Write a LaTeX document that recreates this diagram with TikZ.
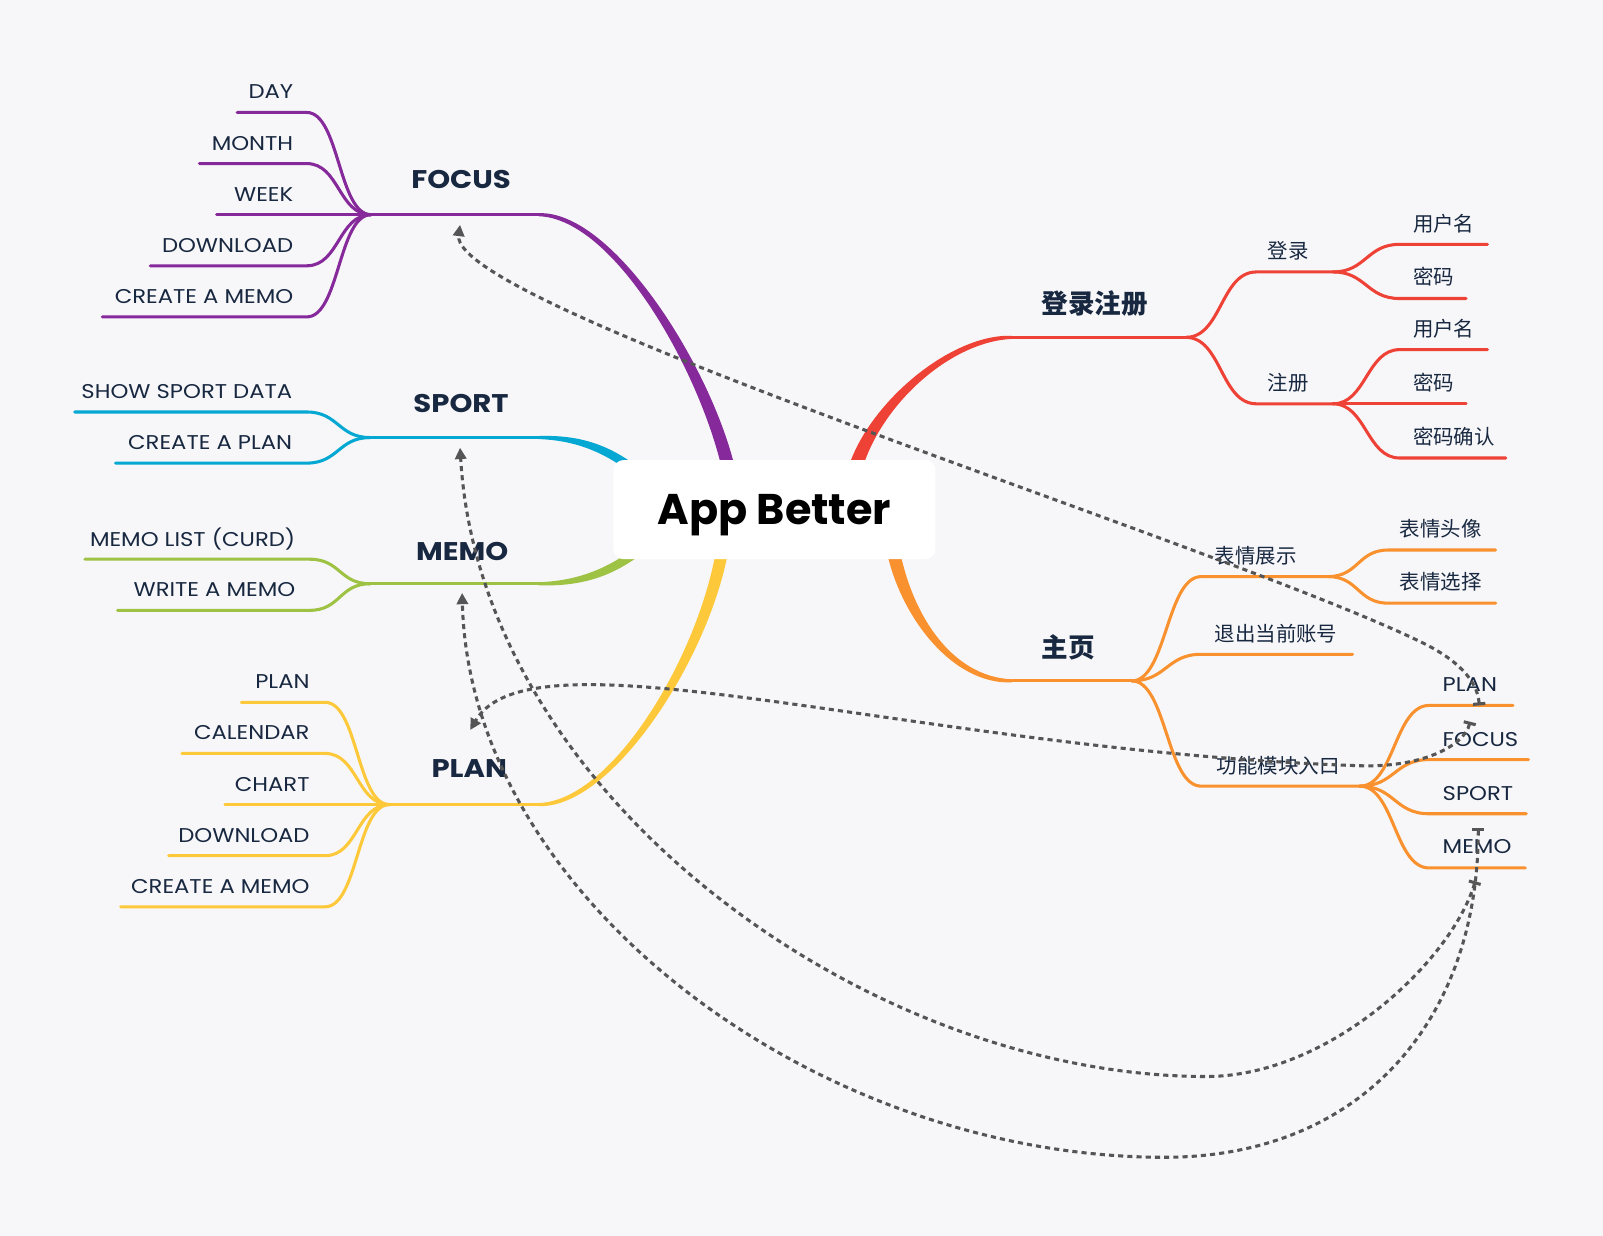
\documentclass[tikz,border=0pt]{standalone}
\usepackage{fontspec}
\setmainfont{Poppins}
\newfontfamily\mmfont{Poppins}[FakeStretch=1.14]
\newfontfamily\cjk{Noto Sans CJK SC}
\usetikzlibrary{arrows.meta}

\definecolor{mmbg}{HTML}{F7F7F9}
\definecolor{mmtext}{HTML}{182840}
\definecolor{mmrel}{HTML}{555555}
\definecolor{cfocus}{HTML}{86299A}
\definecolor{csport}{HTML}{05A8D2}
\definecolor{cmemo}{HTML}{9EC244}
\definecolor{cplan}{HTML}{FDC93A}
\definecolor{clogin}{HTML}{EF4236}
\definecolor{chome}{HTML}{F8912E}

\begin{document}
\begin{tikzpicture}[x=1pt,y=-1pt,
    leafL/.style={anchor=east,inner sep=0pt,text=mmtext,font=\mmfont\fontsize{19.5}{22}\selectfont},
    leafR/.style={anchor=west,inner sep=0pt,text=mmtext,font=\mmfont\fontsize{19.5}{22}\selectfont},
    hanzi/.style={anchor=west,inner sep=0pt,text=mmtext,font=\cjk\fontsize{20}{24}\selectfont},
    topic/.style={inner sep=0pt,text=mmtext,font=\mmfont\bfseries\fontsize{25}{30}\selectfont},
    hanzitopic/.style={inner sep=0pt,text=mmtext,font=\cjk\bfseries\fontsize{26}{30}\selectfont},
    twig/.style={line width=3pt,line cap=round},
    rel/.style={draw=mmrel,line width=3pt,dash pattern=on 5pt off 4pt,
      {Bar[width=12pt]}-{Triangle[length=11pt,width=11pt]}},
    centre/.style={fill=white,rounded corners=10pt,minimum width=315pt,
      minimum height=97pt,inner sep=0pt,text depth=0pt,text=black,
      font=\bfseries\fontsize{42}{48}\selectfont}]

    \useasboundingbox (0,0) rectangle (1568,1209);
    \fill[mmbg] (0,0) rectangle (1568,1209);

    % FOCUS
    \coordinate (focusE) at (527,210);
    \coordinate (focusC1) at (600,210);
    \coordinate (focusC2) at (690,360);
    \coordinate (focusS) at (713,460);
    \coordinate (focusJ) at (363,210);
    \fill[cfocus] ([yshift=1.5]focusE) .. controls ([yshift=4]focusC1) and ([xshift=6.5]focusC2) .. ([xshift=6.5]focusS)
      -- ([xshift=-6.5]focusS) .. controls ([xshift=-6.5]focusC2) and ([yshift=-4]focusC1) .. ([yshift=-1.5]focusE) -- cycle;
    \draw[twig,cfocus] (focusJ) -- (focusE);
    \node[topic] (focus) at (451,176) {FOCUS};

    \coordinate (dayL) at (232,110);
    \coordinate (dayR) at (300,110);
    \node[leafL] (day) at (287,90) {DAY};
    \draw[twig,cfocus] (dayL) -- (dayR) .. controls +(32,0) and +(-32,0) .. (focusJ);

    \coordinate (monthL) at (195,160);
    \coordinate (monthR) at (300,160);
    \node[leafL] (month) at (287,140) {MONTH};
    \draw[twig,cfocus] (monthL) -- (monthR) .. controls +(32,0) and +(-32,0) .. (focusJ);

    \coordinate (weekL) at (212,210);
    \node[leafL] (week) at (287,190) {WEEK};
    \draw[twig,cfocus] (weekL) -- (focusJ);

    \coordinate (fdownL) at (147,260);
    \coordinate (fdownR) at (300,260);
    \node[leafL] (fdown) at (287,240) {DOWNLOAD};
    \draw[twig,cfocus] (fdownL) -- (fdownR) .. controls +(32,0) and +(-32,0) .. (focusJ);

    \coordinate (fmemoL) at (100,310);
    \coordinate (fmemoR) at (300,310);
    \node[leafL] (fmemo) at (287,290) {CREATE A MEMO};
    \draw[twig,cfocus] (fmemoL) -- (fmemoR) .. controls +(32,0) and +(-32,0) .. (focusJ);

    % SPORT
    \coordinate (sportE) at (527,428);
    \coordinate (sportC1) at (570,428);
    \coordinate (sportC2) at (598,442);
    \coordinate (sportS) at (625,463);
    \coordinate (sportJ) at (362,428);
    \fill[csport] ([yshift=1.5]sportE) .. controls ([yshift=3]sportC1) and ([yshift=5]sportC2) .. ([yshift=5.5]sportS)
      -- ([yshift=-5.5]sportS) .. controls ([yshift=-5]sportC2) and ([yshift=-3]sportC1) .. ([yshift=-1.5]sportE) -- cycle;
    \draw[twig,csport] (sportJ) -- (sportE);
    \node[topic] (sport) at (451,395) {SPORT};

    \coordinate (sdataL) at (73,403);
    \coordinate (sdataR) at (300,403);
    \node[leafL] (sdata) at (286,383) {SHOW SPORT DATA};
    \draw[twig,csport] (sdataL) -- (sdataR) .. controls +(31,0) and +(-31,0) .. (sportJ);

    \coordinate (splanL) at (113,453);
    \coordinate (splanR) at (300,453);
    \node[leafL] (splan) at (286,433) {CREATE A PLAN};
    \draw[twig,csport] (splanL) -- (splanR) .. controls +(31,0) and +(-31,0) .. (sportJ);

    % MEMO
    \coordinate (memoE) at (527,571);
    \coordinate (memoC1) at (570,571);
    \coordinate (memoC2) at (600,558);
    \coordinate (memoS) at (628,536);
    \coordinate (memoJ) at (362,571);
    \fill[cmemo] ([yshift=1.5]memoE) .. controls ([yshift=3]memoC1) and ([yshift=5]memoC2) .. ([yshift=5.5]memoS)
      -- ([yshift=-5.5]memoS) .. controls ([yshift=-5]memoC2) and ([yshift=-3]memoC1) .. ([yshift=-1.5]memoE) -- cycle;
    \draw[twig,cmemo] (memoJ) -- (memoE);
    \node[topic] (memo) at (452,539) {MEMO};

    \coordinate (mlistL) at (83,547);
    \coordinate (mlistR) at (303,547);
    \node[leafL] (mlist) at (289,527) {MEMO LIST (CURD)};
    \draw[twig,cmemo] (mlistL) -- (mlistR) .. controls +(30,0) and +(-30,0) .. (memoJ);

    \coordinate (mwriteL) at (115,597);
    \coordinate (mwriteR) at (303,597);
    \node[leafL] (mwrite) at (289,577) {WRITE A MEMO};
    \draw[twig,cmemo] (mwriteL) -- (mwriteR) .. controls +(30,0) and +(-30,0) .. (memoJ);

    % PLAN
    \coordinate (planE) at (527,787);
    \coordinate (planC1) at (600,787);
    \coordinate (planC2) at (690,640);
    \coordinate (planS) at (707,535);
    \coordinate (planJ) at (381,787);
    \fill[cplan] ([yshift=-1.5]planE) .. controls ([yshift=-4]planC1) and ([xshift=6]planC2) .. ([xshift=6]planS)
      -- ([xshift=-6]planS) .. controls ([xshift=-6]planC2) and ([yshift=4]planC1) .. ([yshift=1.5]planE) -- cycle;
    \draw[twig,cplan] (planJ) -- (planE);
    \node[topic] (plan) at (459,752) {PLAN};

    \coordinate (pplanL) at (236,687);
    \coordinate (pplanR) at (318,687);
    \node[leafL] (pplan) at (303,667) {PLAN};
    \draw[twig,cplan] (pplanL) -- (pplanR) .. controls +(32,0) and +(-32,0) .. (planJ);

    \coordinate (pcalL) at (178,737);
    \coordinate (pcalR) at (318,737);
    \node[leafL] (pcal) at (303,717) {CALENDAR};
    \draw[twig,cplan] (pcalL) -- (pcalR) .. controls +(32,0) and +(-32,0) .. (planJ);

    \coordinate (pchartL) at (220,787);
    \node[leafL] (pchart) at (303,767) {CHART};
    \draw[twig,cplan] (pchartL) -- (planJ);

    \coordinate (pdownL) at (165,837);
    \coordinate (pdownR) at (318,837);
    \node[leafL] (pdown) at (303,817) {DOWNLOAD};
    \draw[twig,cplan] (pdownL) -- (pdownR) .. controls +(32,0) and +(-32,0) .. (planJ);

    \coordinate (pmemoL) at (118,887);
    \coordinate (pmemoR) at (318,887);
    \node[leafL] (pmemo) at (303,867) {CREATE A MEMO};
    \draw[twig,cplan] (pmemoL) -- (pmemoR) .. controls +(32,0) and +(-32,0) .. (planJ);

    % 登录注册
    \coordinate (loginS) at (836,460);
    \coordinate (loginC2) at (855,395);
    \coordinate (loginC1) at (930,330);
    \coordinate (loginE) at (990,330);
    \coordinate (loginJ) at (1160,330);
    \fill[clogin] ([xshift=-7]loginS) .. controls ([xshift=-7]loginC2) and ([yshift=4]loginC1) .. ([yshift=1.5]loginE)
      -- ([yshift=-1.5]loginE) .. controls ([yshift=-4]loginC1) and ([xshift=7]loginC2) .. ([xshift=7]loginS) -- cycle;
    \draw[twig,clogin] (loginE) -- (loginJ);
    \node[hanzitopic] (login) at (1071,297) {登录注册};

    \coordinate (dlL) at (1229,266);
    \coordinate (dlJ) at (1304,266);
    \node[hanzi] (dl) at (1240,245) {登录};
    \draw[twig,clogin] (loginJ) .. controls +(35,0) and +(-35,0) .. (dlL) -- (dlJ);

    \coordinate (dlnameL) at (1369,239);
    \coordinate (dlnameR) at (1455,239);
    \node[hanzi] (dlname) at (1382,219) {用户名};
    \draw[twig,clogin] (dlJ) .. controls +(32,0) and +(-32,0) .. (dlnameL) -- (dlnameR);

    \coordinate (dlpwL) at (1369,292);
    \coordinate (dlpwR) at (1434,292);
    \node[hanzi] (dlpw) at (1382,271) {密码};
    \draw[twig,clogin] (dlJ) .. controls +(32,0) and +(-32,0) .. (dlpwL) -- (dlpwR);

    \coordinate (zcL) at (1229,395);
    \coordinate (zcJ) at (1304,395);
    \node[hanzi] (zc) at (1240,374) {注册};
    \draw[twig,clogin] (loginJ) .. controls +(35,0) and +(-35,0) .. (zcL) -- (zcJ);

    \coordinate (zcnameL) at (1369,342);
    \coordinate (zcnameR) at (1455,342);
    \node[hanzi] (zcname) at (1382,322) {用户名};
    \draw[twig,clogin] (zcJ) .. controls +(32,0) and +(-32,0) .. (zcnameL) -- (zcnameR);

    \coordinate (zcpwR) at (1434,395);
    \node[hanzi] (zcpw) at (1382,374) {密码};
    \draw[twig,clogin] (zcJ) -- (zcpwR);

    \coordinate (zcokL) at (1369,448);
    \coordinate (zcokR) at (1473,448);
    \node[hanzi] (zcok) at (1382,427) {密码确认};
    \draw[twig,clogin] (zcJ) .. controls +(32,0) and +(-32,0) .. (zcokL) -- (zcokR);

    % 主页
    \coordinate (homeS) at (873,535);
    \coordinate (homeC2) at (885,600);
    \coordinate (homeC1) at (930,666);
    \coordinate (homeE) at (990,666);
    \coordinate (homeJ) at (1107,666);
    \fill[chome] ([xshift=-6.5]homeS) .. controls ([xshift=-6.5]homeC2) and ([yshift=-4]homeC1) .. ([yshift=-1.5]homeE)
      -- ([yshift=1.5]homeE) .. controls ([yshift=4]homeC1) and ([xshift=6.5]homeC2) .. ([xshift=6.5]homeS) -- cycle;
    \draw[twig,chome] (homeE) -- (homeJ);
    \node[hanzitopic] (home) at (1045,633) {主页};

    \coordinate (bqL) at (1175,564);
    \coordinate (bqJ) at (1299,564);
    \node[hanzi] (bq) at (1188,544) {表情展示};
    \draw[twig,chome] (homeJ) .. controls +(34,0) and +(-34,0) .. (bqL) -- (bqJ);

    \coordinate (bqtxL) at (1358,538);
    \coordinate (bqtxR) at (1463,538);
    \node[hanzi] (bqtx) at (1369,517) {表情头像};
    \draw[twig,chome] (bqJ) .. controls +(30,0) and +(-30,0) .. (bqtxL) -- (bqtxR);

    \coordinate (bqxzL) at (1358,590);
    \coordinate (bqxzR) at (1463,590);
    \node[hanzi] (bqxz) at (1369,569) {表情选择};
    \draw[twig,chome] (bqJ) .. controls +(30,0) and +(-30,0) .. (bqxzL) -- (bqxzR);

    \coordinate (quitL) at (1175,640);
    \coordinate (quitR) at (1323,640);
    \node[hanzi] (quit) at (1188,620) {退出当前账号};
    \draw[twig,chome] (homeJ) .. controls +(34,0) and +(-34,0) .. (quitL) -- (quitR);

    \coordinate (gnL) at (1175,769);
    \coordinate (gnJ) at (1330,769);
    \node[hanzi] (gn) at (1190,749) {功能模块入口};
    \draw[twig,chome] (homeJ) .. controls +(34,0) and +(-34,0) .. (gnL) -- (gnJ);

    \coordinate (rplanL) at (1398,690);
    \coordinate (rplanR) at (1480,690);
    \node[leafR] (rplan) at (1411,670) {PLAN};
    \draw[twig,chome] (gnJ) .. controls +(34,0) and +(-34,0) .. (rplanL) -- (rplanR);

    \coordinate (rfocusL) at (1398,743);
    \coordinate (rfocusR) at (1495,743);
    \node[leafR] (rfocus) at (1411,723) {FOCUS};
    \draw[twig,chome] (gnJ) .. controls +(34,0) and +(-34,0) .. (rfocusL) -- (rfocusR);

    \coordinate (rsportL) at (1398,796);
    \coordinate (rsportR) at (1493,796);
    \node[leafR] (rsport) at (1411,776) {SPORT};
    \draw[twig,chome] (gnJ) .. controls +(34,0) and +(-34,0) .. (rsportL) -- (rsportR);

    \coordinate (rmemoL) at (1398,849);
    \coordinate (rmemoR) at (1492,849);
    \node[leafR] (rmemo) at (1411,828) {MEMO};
    \draw[twig,chome] (gnJ) .. controls +(34,0) and +(-34,0) .. (rmemoL) -- (rmemoR);

    % centre
    \node[centre] (app) at (757.5,498.5) {App Better};

    % relations
    \coordinate (rplanT) at (1447,690);
    \coordinate (rfocusT) at (1438,706);
    \coordinate (rmemoTa) at (1446,810);
    \coordinate (rmemoTb) at (1443,862);
    \coordinate (focusA) at (450,220);
    \coordinate (sportA) at (450,438);
    \coordinate (memoA) at (452,580);
    \coordinate (planA) at (460,714);
    \coordinate (relA) at (1390,628);
    \coordinate (relB) at (1330,749);
    \coordinate (relC) at (1180,1053);
    \coordinate (relD) at (1139,1132);

    \draw[rel] (rplanT) .. controls (1445,665) and (1425,645) .. (relA)
      .. controls (1190,531) and (440,300) .. (focusA);
    \draw[rel] (rfocusT) .. controls (1432,730) and (1390,751) .. (relB)
      .. controls (900,735) and (520,610) .. (planA);
    \draw[rel] (rmemoTb) .. controls (1420,940) and (1300,1053) .. (relC)
      .. controls (850,1053) and (470,780) .. (sportA);
    \draw[rel] (rmemoTa) .. controls (1446,1000) and (1330,1132) .. (relD)
      .. controls (800,1132) and (460,880) .. (memoA);

\end{tikzpicture}
\end{document}
